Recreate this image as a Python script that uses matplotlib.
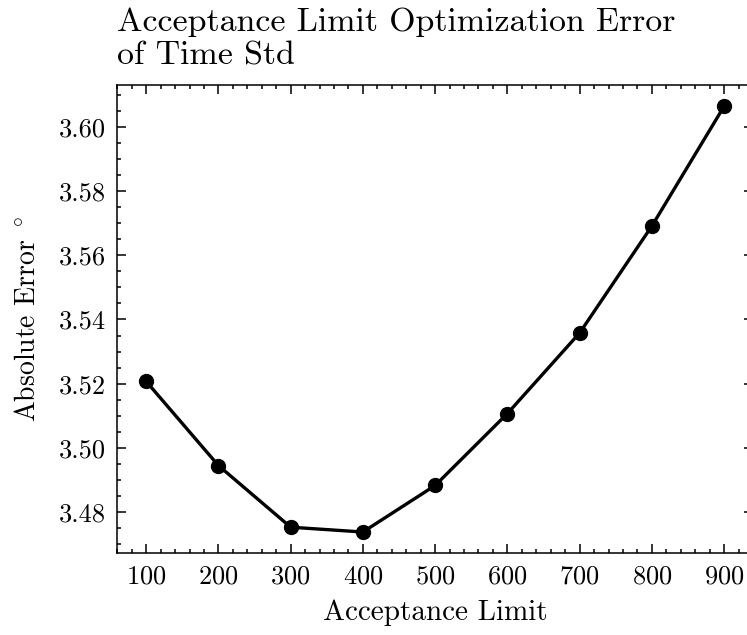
import matplotlib
matplotlib.use("Agg")
import matplotlib.pyplot as plt
from matplotlib.ticker import MultipleLocator

acceptance_limit = [100, 200, 300, 400, 500, 600, 700, 800, 900]
abs_error = [3.5207, 3.4945, 3.4753, 3.4738, 3.4883, 3.5107, 3.5358, 3.5691, 3.6064]

plt.rcParams['font.family'] = ['cmr10', 'DejaVu Serif']
plt.rcParams['mathtext.fontset'] = 'cm'
plt.rcParams['axes.unicode_minus'] = False
plt.rcParams['axes.formatter.use_mathtext'] = True

fig = plt.figure(figsize=(7.47, 6.35), dpi=100)
ax = fig.add_axes([117.3 / 747, 1 - 553.3 / 635, (753 - 117.3) / 747, (553.3 - 85) / 635])

ax.plot(acceptance_limit, abs_error, color='black', lw=2.4, marker='o', markersize=10)

ax.xaxis.set_major_locator(MultipleLocator(100))
ax.xaxis.set_minor_locator(MultipleLocator(20))
ax.yaxis.set_major_locator(MultipleLocator(0.02))
ax.yaxis.set_minor_locator(MultipleLocator(0.005))
ax.yaxis.set_major_formatter(matplotlib.ticker.FormatStrFormatter('%.2f'))

ax.tick_params(which='both', direction='in', top=True, right=True, width=1.1, labelsize=19)
ax.tick_params(which='major', length=6.5, pad=8)
ax.tick_params(which='minor', length=3.2)
for s in ax.spines.values():
    s.set_linewidth(1.1)

ax.set_xlabel('Acceptance Limit', fontsize=21, labelpad=8)
ax.set_ylabel(r'Absolute Error $^\circ$', fontsize=20, labelpad=13)
ax.set_title('Acceptance Limit Optimization Error\nof Time Std', fontsize=24.4, loc='left', pad=15, linespacing=1.2)

fig.savefig('out.png', dpi=100)
